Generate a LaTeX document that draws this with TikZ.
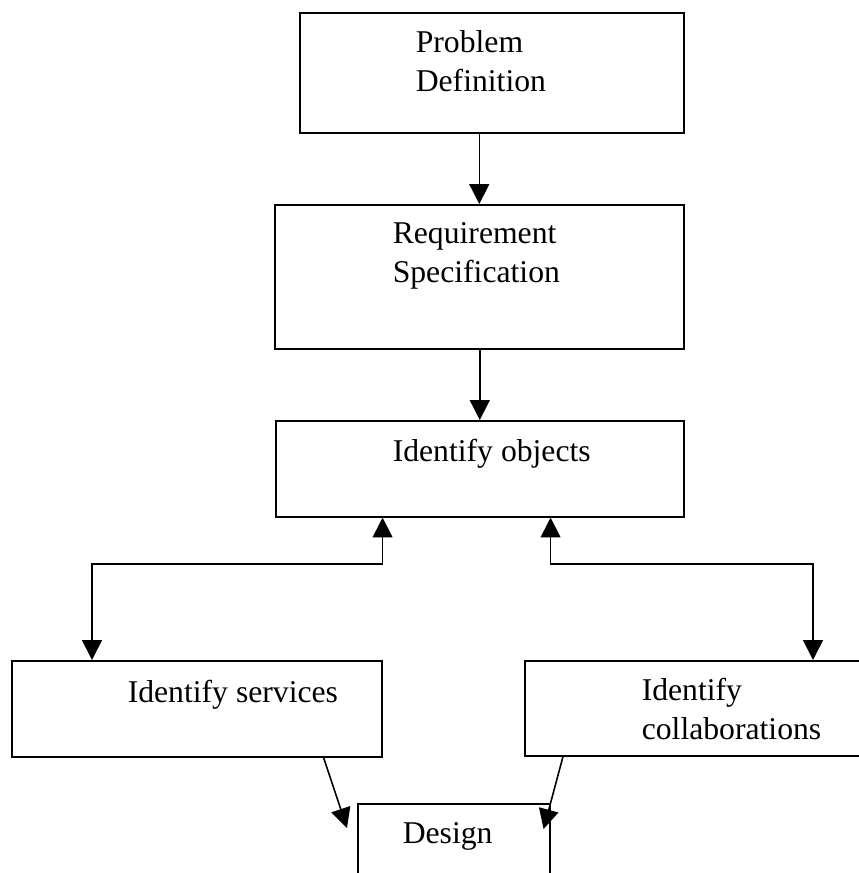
\documentclass[tikz,border=0pt]{standalone}
\usepackage{fontspec}
\setmainfont{Liberation Serif}
\usetikzlibrary{arrows.meta,calc}
\def\px{0.3788pt}
\begin{document}
\begin{tikzpicture}[x=\px, y=-\px, line width=0.6pt,
	>={Triangle[length=7.5pt, width=7.5pt]},
	box/.style={draw, anchor=north west, inner sep=0pt},
	txt/.style={anchor=base west, inner sep=0pt, align=left, font=\fontsize{12pt}{14.4pt}\selectfont}]
	\clip (0,0) rectangle (859,873);
	\node[box, minimum width=384*\px, minimum height=120*\px] (prob) at (299,12) {};
	\node[box, minimum width=409*\px, minimum height=144*\px] (req) at (274,204) {};
	\node[box, minimum width=408*\px, minimum height=96*\px] (obj) at (275,420) {};
	\node[box, minimum width=370*\px, minimum height=96*\px] (serv) at (11,660) {};
	\node[box, minimum width=356*\px, minimum height=95*\px] (coll) at (524,660) {};
	\node[box, minimum width=192*\px, minimum height=100*\px] (design) at (357,803) {};
	\node[txt] (probt) at (415,91) {Problem\\Definition};
	\node[txt] (reqt) at (392,282) {Requirement\\Specification};
	\node[txt] (objt) at (392,461) {Identify objects};
	\node[txt] (servt) at (127,702) {Identify services};
	\node[txt] (collt) at (641,739) {Identify\\collaborations};
	\node[txt] (designt) at (402,843) {Design};
	\coordinate (sl) at (92,564);
	\coordinate (cl) at (813,564);
	\draw[->] (prob.south -| req.north) -- (req.north);
	\draw[->] (req.south -| obj.north) -- (obj.north);
	\draw[<->] (obj.south -| serv.east) |- (sl) -- (serv.north -| sl);
	\draw[<->] (obj.south -| design.east) |- (cl) -- (coll.north -| cl);
	\draw[->] ($(serv.south east)+(-59,0)$) -- ($(design.north west)+(-10,25)$);
	\draw[->] ($(coll.south west)+(39,0)$) -- ($(design.north east)+(-7,26)$);
\end{tikzpicture}
\end{document}
